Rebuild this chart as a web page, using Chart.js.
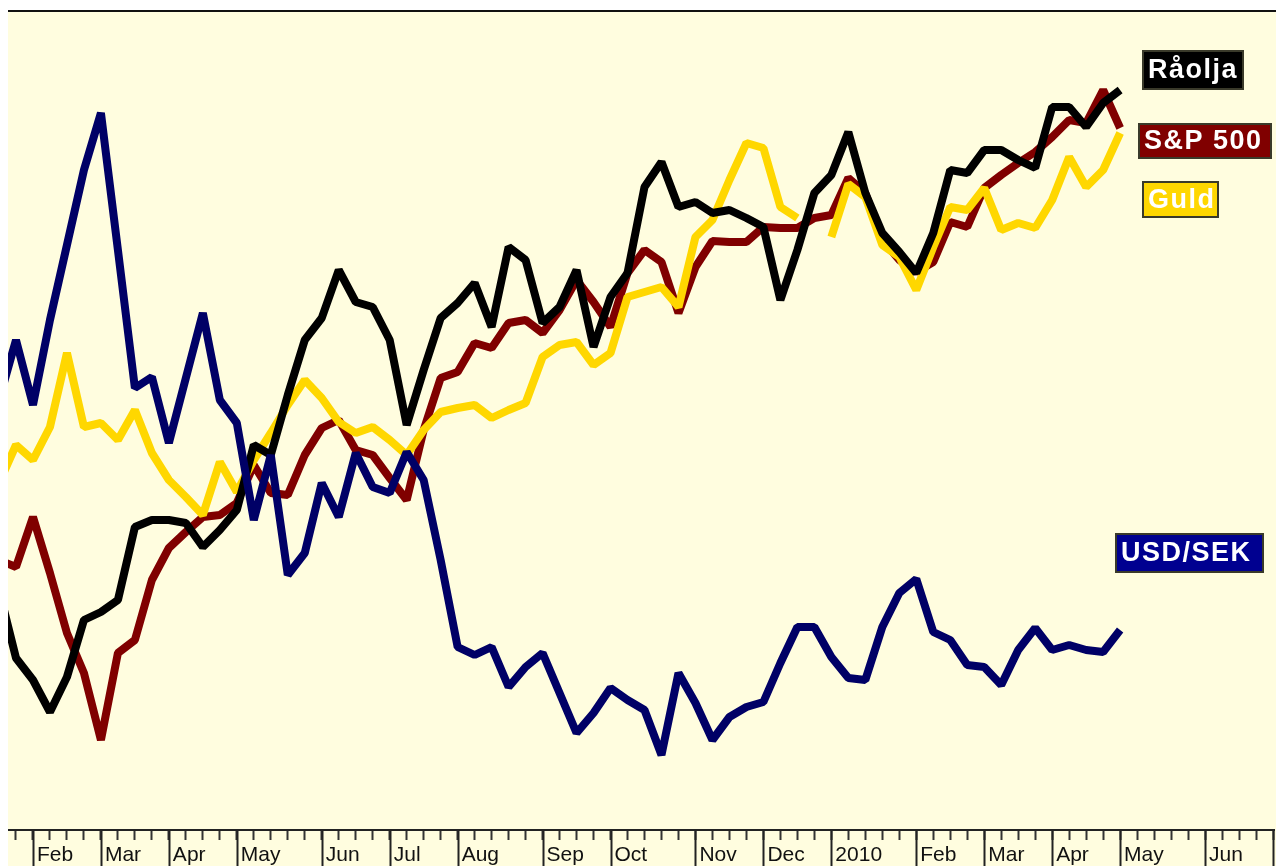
<!DOCTYPE html>
<html>
<head>
<meta charset="utf-8">
<script src="https://cdn.jsdelivr.net/npm/chart.js@4"></script>
<style>
  html, body { margin: 0; padding: 0; background: #fff; }
  #wrap { position: absolute; left: 8px; top: 10px; width: 1268px; height: 854px;
          border-top: 2px solid #111; background: #FFFDDF; }
  canvas { display: block; }
</style>
</head>
<body>
<div id="wrap"><canvas id="chart" width="1268" height="854"></canvas></div>
<script>
// week index (0 = first week of Feb 2009), one point per week
const weeks = [-2, -1, 0, 1, 2, 3, 4, 5, 6, 7, 8, 9, 10, 11, 12, 13, 14, 15, 16, 17,
  18, 19, 20, 21, 22, 23, 24, 25, 26, 27, 28, 29, 30, 31, 32, 33, 34, 35, 36, 37,
  38, 39, 40, 41, 42, 43, 44, 45, 46, 47, 48, 49, 50, 51, 52, 53, 54, 55, 56, 57,
  58, 59, 60, 61, 62, 63, 64];

// relative index levels (no y axis shown)
const raolja = [240, 172, 150, 118, 153, 210, 218, 230, 303, 310, 310, 307, 283, 300, 320, 385,
  375, 435, 490, 512, 560, 528, 523, 490, 405, 460, 512, 527, 547, 503, 583, 570,
  507, 523, 560, 483, 533, 557, 643, 668, 623, 628, 617, 620, 612, 603, 530, 580,
  637, 655, 698, 637, 597, 578, 557, 597, 660, 657, 680, 680, 670, 662, 723, 723,
  703, 727, 740];
const sp500 = [270, 263, 313, 257, 197, 157, 90, 177, 190, 250, 282, 298, 313, 315, 327, 365,
  337, 335, 375, 402, 410, 380, 375, 352, 330, 400, 452, 458, 487, 482, 507, 510,
  497, 520, 550, 528, 503, 557, 580, 568, 517, 563, 589, 588, 588, 603, 602, 602,
  612, 615, 652, 637, 590, 570, 558, 568, 608, 603, 642, 655, 667, 678, 693, 710,
  707, 740, 702];
const guld = [347, 385, 370, 403, 477, 403, 407, 390, 420, 377, 350, 333, 315, 368, 338, 370,
  397, 425, 450, 432, 408, 397, 403, 390, 375, 400, 418, 422, 425, 412, 420, 427,
  473, 485, 488, 465, 477, 533, 538, 543, 523, 593, 610, 650, 687, 682, 623, 612,
  null, 593, 646, 633, 585, 573, 540, 583, 623, 620, 642, 600, 607, 602, 630, 673,
  643, 660, 697];
const usdsek = [430, 490, 425, 510, 585, 660, 717, 580, 442, 453, 387, 452, 517, 430, 407, 310,
  375, 255, 277, 347, 313, 377, 343, 337, 378, 350, 270, 183, 175, 183, 143, 163,
  177, 137, 97, 117, 142, 130, 120, 75, 157, 127, 90, 113, 123, 128, 167, 203,
  203, 173, 152, 150, 203, 237, 251, 198, 190, 165, 163, 145, 180, 202, 180, 185,
  180, 178, 200];

// month boundaries on the time axis
const monthWeeks = [0, 4, 8, 12, 17, 21, 25, 30, 34, 39, 43, 47, 52, 56, 60, 64, 69, 73];
const monthLabels = ['Feb', 'Mar', 'Apr', 'May', 'Jun', 'Jul', 'Aug', 'Sep', 'Oct', 'Nov',
  'Dec', '2010', 'Feb', 'Mar', 'Apr', 'May', 'Jun', ''];

const seriesNames = ['USD/SEK', 'Råolja', 'Guld', 'S&P 500'];
const seriesData = [usdsek, raolja, guld, sp500];
const seriesColors = ['#000066', '#000000', '#FFD700', '#800000'];
const boxColors = ['#000090', '#000000', '#FFD700', '#800000'];

function pts(vals) {
  return weeks.map((w, i) => ({ x: w, y: vals[i] }));
}

// long ticks at month starts
const monthTicks = {
  id: 'monthTicks',
  afterDraw(chart) {
    const sx = chart.scales.x;
    const ctx = chart.ctx;
    ctx.save();
    ctx.strokeStyle = '#222';
    ctx.lineWidth = 2;
    monthWeeks.forEach(w => {
      const px = Math.round(sx.getPixelForValue(w)) + 0.5;
      ctx.beginPath();
      ctx.moveTo(px, sx.top);
      ctx.lineTo(px, sx.bottom);
      ctx.stroke();
    });
    ctx.restore();
  }
};

// coloured name boxes at the right
const nameBoxes = {
  id: 'nameBoxes',
  afterDraw(chart) {
    const ctx = chart.ctx;
    const boxes = [
      { i: 1, x: 1134, y: 38, w: 102, h: 40 },
      { i: 3, x: 1130, y: 111, w: 134, h: 36 },
      { i: 2, x: 1134, y: 169, w: 77, h: 37 },
      { i: 0, x: 1107, y: 521, w: 149, h: 40 }
    ];
    ctx.save();
    boxes.forEach(b => {
      ctx.fillStyle = boxColors[b.i];
      ctx.fillRect(b.x, b.y, b.w, b.h);
      ctx.strokeStyle = '#3a3a2a';
      ctx.lineWidth = 2;
      ctx.strokeRect(b.x + 1, b.y + 1, b.w - 2, b.h - 2);
      ctx.fillStyle = '#fff';
      ctx.font = 'bold 27px "Liberation Sans", Arial, sans-serif';
      ctx.letterSpacing = '1.5px';
      ctx.textBaseline = 'middle';
      ctx.textAlign = 'left';
      ctx.fillText(seriesNames[b.i], b.x + 6, b.y + b.h / 2 + 1);
    });
    ctx.restore();
  }
};

const chart = new Chart(document.getElementById('chart').getContext('2d'), {
  type: 'line',
  data: {
    datasets: seriesNames.map((name, i) => ({
      label: name,
      data: pts(seriesData[i]),
      borderColor: seriesColors[i],
      backgroundColor: seriesColors[i],
      borderWidth: 8,
      borderJoinStyle: 'bevel',
      pointRadius: 0,
      tension: 0,
      spanGaps: false,
      order: i
    }))
  },
  options: {
    responsive: false,
    animation: false,
    events: [],
    layout: { padding: 0 },
    plugins: { legend: { display: false }, tooltip: { enabled: false } },
    scales: {
      x: {
        type: 'linear',
        min: -25 / 17,
        max: -25 / 17 + 1268 / 17,
        afterBuildTicks(scale) {
          const t = [];
          for (let w = -1; w <= 73; w++) t.push({ value: w });
          scale.ticks = t;
        },
        afterFit(scale) { scale.height = 36; },
        grid: { display: true, drawOnChartArea: false, drawTicks: true, tickLength: 10,
                tickColor: '#333', tickWidth: 2 },
        border: { display: true, color: '#222', width: 2 },
        ticks: {
          autoSkip: false, maxRotation: 0, minRotation: 0, align: 'start', labelOffset: 4,
          padding: 3, color: '#111',
          font: { family: '"Liberation Sans", Arial, sans-serif', size: 21 },
          callback(v) {
            const j = monthWeeks.indexOf(v);
            return j >= 0 ? monthLabels[j] : '';
          }
        }
      },
      y: { display: false, min: 0, max: 818 }
    }
  },
  plugins: [monthTicks, nameBoxes]
});
</script>
</body>
</html>
